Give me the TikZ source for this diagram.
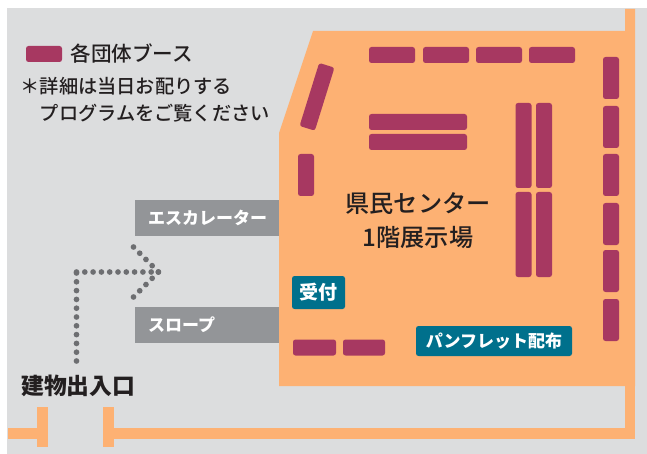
\documentclass[tikz,border=0pt]{standalone}
\usepackage{fontspec}
\setmainfont{Noto Sans CJK JP}
\newfontfamily\midfont{Noto Sans CJK JP Medium}
\usetikzlibrary{positioning}
\definecolor{floorgray}{HTML}{DCDDDE}
\definecolor{hallorange}{HTML}{FDB173}
\definecolor{boothred}{HTML}{A73861}
\definecolor{signteal}{HTML}{00708C}
\definecolor{labelgray}{HTML}{939598}
\definecolor{dotgray}{HTML}{6D6E71}
\definecolor{inktext}{HTML}{231F20}
\tikzstyle{booth} = [fill=boothred, rounded corners=2.5pt, inner sep=0pt, minimum height=16pt]
\tikzstyle{boothv} = [fill=boothred, rounded corners=2.5pt, inner sep=0pt, minimum width=16pt]
\tikzstyle{sign} = [fill=signteal, rounded corners=2.5pt, inner sep=0pt, text=white, font=\fontsize{17}{17}\selectfont\bfseries]
\tikzstyle{ramp} = [fill=labelgray, anchor=west, inner sep=0pt, minimum height=36pt, text width=144pt, text=white, align=left, font=\fontsize{17}{17}\selectfont\bfseries]
\tikzstyle{wall} = [draw=none, fill=hallorange]
\tikzstyle{route} = [draw=dotgray, line width=5.7pt, line cap=round, dash pattern=on 0pt off 8.8pt]
\tikzstyle{inktxt} = [inner sep=0pt, text=inktext, anchor=west]
\begin{document}
\begin{tikzpicture}[x=1pt,y=-1pt]
    \useasboundingbox (0,0) rectangle (647,454);
    \fill[floorgray] (7,8) rectangle (647,454);

    % hall and outer walls
    \fill[hallorange] (313,31) -- (625,31) -- (625,9) -- (635,9) -- (635,386) -- (279,386) -- (279,133) -- cycle;
    \fill[wall] (625,386) rectangle (635,439);
    \fill[wall] (114,428) rectangle (635,439);
    \fill[wall] (103,407) rectangle (114,447);
    \fill[wall] (37,407) rectangle (48,447);
    \fill[wall] (8,428) rectangle (37,439);

    % legend
    \node[booth, minimum width=36pt] (key) at (44,54) {};
    \node[inktxt, right=8pt of key, font=\midfont\fontsize{20.6}{21}\selectfont] (keytext) {各団体ブース};
    \node[inktxt, font=\midfont\fontsize{19.2}{27}\selectfont, align=left] (note) at (20.5,99.5) {＊詳細は当日お配りする\\\hspace*{19.2pt}プログラムをご覧ください};

    % booths
    \node[booth, minimum width=46pt] (top1) at (392,55) {};
    \node[booth, minimum width=46pt] (top2) at (446,55) {};
    \node[booth, minimum width=46pt] (top3) at (499,55) {};
    \node[booth, minimum width=46pt] (top4) at (552,55) {};

    \node[boothv, minimum height=42pt] (side1) at (611,78) {};
    \node[boothv, minimum height=42pt] (side2) at (611,127) {};
    \node[boothv, minimum height=42pt] (side3) at (611,175) {};
    \node[boothv, minimum height=42pt] (side4) at (611,224) {};
    \node[boothv, minimum height=42pt] (side5) at (611,271) {};
    \node[boothv, minimum height=42pt] (side6) at (611,320) {};

    \node[booth, minimum width=98pt] (mid1) at (418,122) {};
    \node[booth, minimum width=98pt] (mid2) at (418,142) {};

    \node[boothv, minimum height=85pt] (col1) at (523.5,145.5) {};
    \node[boothv, minimum height=85pt] (col2) at (544,145.5) {};
    \node[boothv, minimum height=85pt] (col3) at (523.5,234.5) {};
    \node[boothv, minimum height=85pt] (col4) at (544,234.5) {};

    \node[boothv, minimum height=42pt] (left1) at (306,175) {};
    \node[boothv, minimum height=66pt, rotate=-17.3] (left2) at (317,96.8) {};

    \node[booth, minimum width=43pt] (low1) at (314.5,347.5) {};
    \node[booth, minimum width=42pt] (low2) at (364,347.5) {};

    % signs
    \node[sign, minimum width=53pt, minimum height=33pt, font=\fontsize{19}{19}\selectfont\bfseries] (desk) at (318.5,292.5) {受付};
    \node[sign, minimum width=156pt, minimum height=30pt] (leaflet) at (494,341) {パンフレット配布};
    \node[ramp] (escalator) at (135,218) {\hspace*{13pt}エスカレーター};
    \node[ramp] (slope) at (135,325) {\hspace*{13pt}スロープ};

    % hall name and entrance
    \node[text=inktext, font=\midfont\fontsize{24.2}{33.5}\selectfont, align=center] (hall) at (418,220.5) {県民センター\\1階展示場};
    \node[inktxt, font=\fontsize{22.8}{23}\selectfont\bfseries] (entrance) at (21,386) {建物出入口};

    % route from entrance
    \coordinate (start) at (76.5,361);
    \coordinate (corner) at (76.5,272);
    \coordinate (tip) at (158.5,272);
    \coordinate (headtop) at (133.5,247);
    \coordinate (headlow) at (133.5,297);
    \draw[route] (start) -- (corner);
    \draw[route, dash pattern=on 0pt off 8.3pt] (corner) -- (tip);
    \draw[route] (headtop) -- (tip);
    \draw[route] (headlow) -- (tip);
\end{tikzpicture}
\end{document}
